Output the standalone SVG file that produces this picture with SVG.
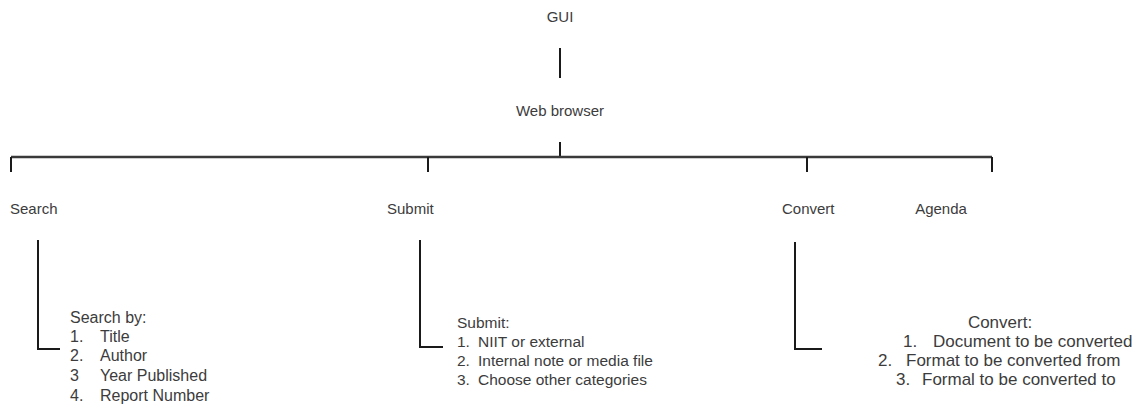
<svg xmlns="http://www.w3.org/2000/svg" width="1141" height="413" viewBox="0 0 1141 413">
<style>
text{font-family:"Liberation Sans",Arial,sans-serif;fill:#3c3c3c}
.lbl{font-size:15px}
.s16{font-size:16px}
.s15{font-size:15.5px}
.s17{font-size:17px}
.ln{stroke:#1a1a1a;stroke-width:2;fill:none}
.hl{stroke:#3a3a3a;stroke-width:2.5;fill:none}
</style>
<rect width="1141" height="413" fill="#fff"/>
<g id="connectors">
<line class="ln" x1="560" y1="48" x2="560" y2="78"/>
<line class="ln" x1="560" y1="142" x2="560" y2="157"/>
<line class="hl" x1="11" y1="157" x2="992" y2="157"/>
<line class="ln" x1="11" y1="157" x2="11" y2="172"/>
<line class="ln" x1="428" y1="157" x2="428" y2="172"/>
<line class="ln" x1="807" y1="157" x2="807" y2="172"/>
<line class="ln" x1="992" y1="157" x2="992" y2="172"/>
<polyline class="ln" points="38,240 38,349 60,349"/>
<polyline class="ln" points="420,240 420,347 443,347"/>
<polyline class="ln" points="795,242 795,349 822,349"/>
</g>
<g id="gui"><text class="lbl" x="560" y="22" text-anchor="middle">GUI</text></g>
<g id="web-browser"><text class="lbl" x="560" y="116" text-anchor="middle">Web browser</text></g>
<g id="search"><text class="lbl" x="10" y="214">Search</text></g>
<g id="submit"><text class="lbl" x="387" y="214">Submit</text></g>
<g id="convert"><text class="lbl" x="782" y="214">Convert</text></g>
<g id="agenda"><text class="lbl" x="941" y="214" text-anchor="middle">Agenda</text></g>
<g id="search-list">
<text class="s16" x="70" y="323">Search by:</text>
<text class="s16" x="70" y="342">1.</text><text class="s16" x="100" y="342">Title</text>
<text class="s16" x="70" y="361">2.</text><text class="s16" x="100" y="361">Author</text>
<text class="s16" x="70" y="381">3</text><text class="s16" x="100" y="381">Year Published</text>
<text class="s16" x="70" y="401">4.</text><text class="s16" x="100" y="401">Report Number</text>
</g>
<g id="submit-list">
<text class="s15" x="457" y="328">Submit:</text>
<text class="s15" x="457" y="347">1.</text><text class="s15" x="478" y="347">NIIT or external</text>
<text class="s15" x="457" y="366">2.</text><text class="s15" x="478" y="366">Internal note or media file</text>
<text class="s15" x="457" y="385">3.</text><text class="s15" x="478" y="385">Choose other categories</text>
</g>
<g id="convert-list">
<text class="s17" x="1000" y="328" text-anchor="middle">Convert:</text>
<text class="s17" x="903" y="347">1.</text><text class="s17" x="933" y="347">Document to be converted</text>
<text class="s17" x="878" y="366">2.</text><text class="s17" x="906" y="366">Format to be converted from</text>
<text class="s17" x="896" y="385">3.</text><text class="s17" x="922" y="385">Formal to be converted to</text>
</g>
</svg>
